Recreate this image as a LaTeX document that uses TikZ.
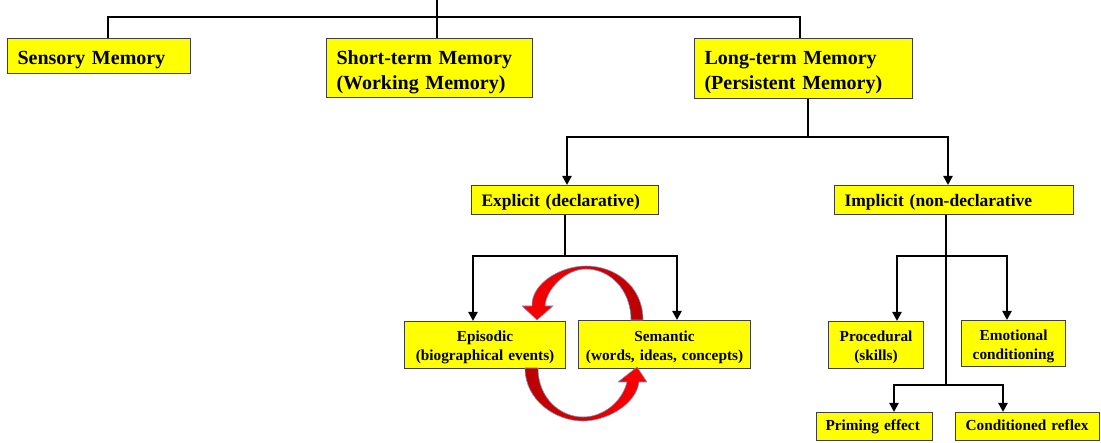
\documentclass[tikz,border=0pt]{standalone}
\usepackage{fontspec}
\setmainfont{Liberation Serif}
\usetikzlibrary{arrows.meta}
\definecolor{boxyellow}{RGB}{255,255,0}
\definecolor{deepred}{RGB}{185,0,0}
\definecolor{brightred}{RGB}{255,0,0}
\definecolor{arcedge}{RGB}{130,145,185}
\begin{document}
\begin{tikzpicture}[x=1pt,y=-1pt,
  memory/.style={draw=black!75, line width=1.1pt, fill=boxyellow, anchor=north west,
                 inner xsep=0pt, inner ysep=0pt},
  % the zero-width rule sets how far the first line sits below the box top
  toptext/.style={font=\fontsize{20}{25}\selectfont\bfseries, align=left,
                  execute at begin node={\rule[-4.4pt]{0pt}{26.4pt}}},
  midtext/.style={font=\fontsize{17.5}{21}\selectfont\bfseries, align=left,
                  execute at begin node={\rule[-3.9pt]{0pt}{20.9pt}}},
  lowtext/.style={font=\fontsize{15.3}{19}\selectfont\bfseries, align=center,
                  execute at begin node={\rule{0pt}{15.4pt}}},
  leaftext/.style={font=\fontsize{15.3}{19}\selectfont\bfseries, align=left,
                  execute at begin node={\rule[-4pt]{0pt}{16pt}}},
  link/.style={line width=2.7pt, black},
  arrowlink/.style={link, -{Triangle[width=9pt,length=9pt]}},
  loop/.style={draw=arcedge, line width=0.6pt, line join=round},
]
\useasboundingbox (0,0) rectangle (1101,443);

% ---- top level
\node[memory, toptext, minimum width=183pt, minimum height=35pt, text width=163pt]
  (sens) at (7,38) {Sensory Memory};
\node[memory, toptext, minimum width=206pt, minimum height=59pt, text width=186pt]
  (stm) at (326,38) {Short-term Memory\\(Working Memory)};
\node[memory, toptext, minimum width=218pt, minimum height=60pt, text width=198pt]
  (ltm) at (694,38) {Long-term Memory\\(Persistent Memory)};

% ---- second level
\node[memory, midtext, minimum width=187pt, minimum height=29pt, text width=167pt]
  (expl) at (471,185) {Explicit (declarative)};
\node[memory, midtext, minimum width=239pt, minimum height=29pt, text width=219pt]
  (impl) at (834,185) {Implicit (non-declarative};

% ---- third level
\node[memory, lowtext, minimum width=161pt, minimum height=47pt, text width=155pt]
  (epi) at (404,321) {Episodic\\(biographical events)};
\node[memory, lowtext, minimum width=172pt, minimum height=48pt, text width=166pt]
  (sem) at (578,320) {Semantic\\(words, ideas, concepts)};
\node[memory, lowtext, minimum width=95pt, minimum height=47pt, text width=89pt]
  (proc) at (828,321) {Procedural\\(skills)};
\node[memory, lowtext, minimum width=104pt, minimum height=46pt, text width=98pt]
  (emo) at (961,320) {Emotional\\conditioning};

% ---- bottom level
\node[memory, leaftext, minimum width=116pt, minimum height=28pt, text width=98pt]
  (prim) at (816,412) {Priming effect};
\node[memory, leaftext, minimum width=144pt, minimum height=28pt, text width=124pt]
  (cond) at (955,412) {Conditioned reflex};

% ---- junction points
\coordinate (root) at (437,0);
\coordinate (hubL) at (108,17);
\coordinate (hubR) at (800,17);
\coordinate (ltmStem) at (808,137);
\coordinate (toExpl) at (567,137);
\coordinate (toImpl) at (948,137);
\coordinate (eStem) at (565,256);
\coordinate (toEpi) at (473,256);
\coordinate (toSem) at (677,256);
\coordinate (iStem) at (946,256);
\coordinate (iBase) at (946,385);
\coordinate (toProc) at (897,256);
\coordinate (toEmo) at (1007,256);
\coordinate (toPrim) at (894,385);
\coordinate (toCond) at (1003,385);

% ---- connectors
\draw[link] (root) -- (stm.north -| root);
\draw[link] (sens.north -| hubL) -- (hubL) -- (hubR) -- (ltm.north -| hubR);

\draw[arrowlink] (ltm.south -| ltmStem) -- (ltmStem) -| (expl.north -| toExpl);
\draw[arrowlink] (ltmStem) -| (impl.north -| toImpl);

\draw[arrowlink] (expl.south -| eStem) -- (eStem) -| (epi.north -| toEpi);
\draw[arrowlink] (eStem) -| (sem.north -| toSem);

\draw[link] (impl.south -| iStem) -- (iBase);
\draw[arrowlink] (iStem) -| (proc.north -| toProc);
\draw[arrowlink] (iStem) -| (emo.north -| toEmo);
\draw[arrowlink] (iBase) -| (prim.north -| toPrim);
\draw[arrowlink] (iBase) -| (cond.north -| toCond);

% ---- exchange loop between episodic and semantic memory
\draw[loop, left color=brightred, right color=deepred]
  (643,320) .. controls (643,286) and (615,266) .. (586,266)
  .. controls (560,266) and (531,284) .. (532,306)
  -- (522,306) -- (537,320) -- (553,306) -- (545,306)
  .. controls (546,290) and (565,269) .. (586,269)
  .. controls (610,269) and (631,290) .. (631,320) -- cycle;
\draw[loop, left color=deepred, right color=brightred]
  (525,368) .. controls (525,400) and (555,421) .. (583,421)
  .. controls (606,421) and (636,405) .. (639,382)
  -- (647,382) -- (637,367) -- (618,382) -- (627,382)
  .. controls (622,402) and (603,417) .. (583,417)
  .. controls (560,417) and (538,398) .. (538,368) -- cycle;
\end{tikzpicture}
\end{document}
